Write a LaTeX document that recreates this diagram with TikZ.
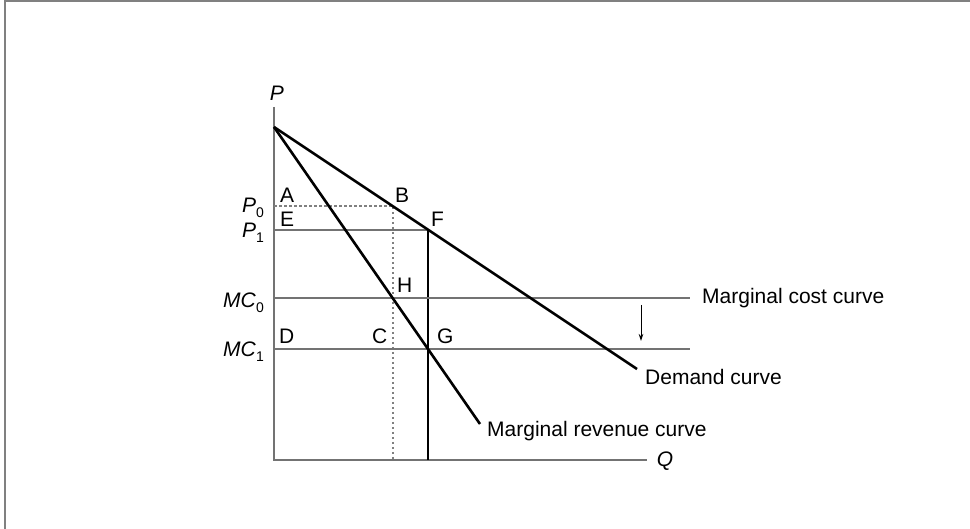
\documentclass[tikz,border=0pt]{standalone}
\usepackage{fontspec}
\setmainfont{Liberation Sans}
\usetikzlibrary{arrows.meta}

\newcommand{\lowsub}[1]{\raisebox{-5pt}{\fontsize{14}{14}\selectfont #1}}

\begin{document}
\begin{tikzpicture}[x=1pt, y=-1pt,
		curve/.style={line width=2.6pt, black},
		axisline/.style={line width=1.6pt, black!55},
		guide/.style={line width=1.6pt, black!55},
		dotguide/.style={line width=1.6pt, black!50, dash pattern=on 2.5pt off 2.5pt},
		drop/.style={line width=1.1pt, black},
		lbl/.style={inner sep=0pt, font=\fontsize{21}{25}\selectfont},
		axlbl/.style={inner sep=0pt, font=\fontsize{21}{25}\selectfont\itshape}]
	\useasboundingbox (0,0) rectangle (970,529);
	
	% Frame
	\draw[line width=2pt, black!50] (4.5,529) -- (4.5,1.5) -- (970,1.5);
	
	% Axes
	\coordinate (O) at (274,460);
	\coordinate (Ptop) at (274,107);
	\coordinate (Qend) at (647,460);
	\draw[axisline] (Ptop) -- (O) -- (Qend);
	\node[axlbl, anchor=base] (Plab) at (277,101) {P};
	\node[axlbl, anchor=base] (Qlab) at (665,466) {Q};
	
	% Points
	\coordinate (apex) at (274,127);
	\coordinate (B) at (393,206);
	\coordinate (F) at (428,230);
	\coordinate (H) at (393,298);
	\coordinate (G) at (428,349);
	\coordinate (P0) at (274,206);
	\coordinate (P1) at (274,230);
	\coordinate (MC0) at (274,298);
	\coordinate (MC1) at (274,349);
	\coordinate (Bfoot) at (393,460);
	\coordinate (Ffoot) at (428,460);
	\coordinate (MC0end) at (690,298);
	\coordinate (MC1end) at (690,349);
	\coordinate (Dend) at (637,369);
	\coordinate (MRend) at (480,424);
	
	% Price lines
	\draw[dotguide] (P0) -- (B) -- (Bfoot);
	\draw[guide] (P1) -- (F);
	\draw[drop] (F) -- (Ffoot);
	
	% Marginal cost lines
	\draw[guide] (MC0) -- (MC0end);
	\draw[guide] (MC1) -- (MC1end);
	
	% Demand and marginal revenue
	\draw[curve] (apex) -- (Dend);
	\draw[curve] (apex) -- (MRend);
	
	% Shift of marginal cost
	\coordinate (shtop) at (641,305);
	\coordinate (shbot) at (641,341);
	\draw[line width=0.9pt, -{Stealth[length=7pt, width=4.5pt]}] (shtop) -- (shbot);
	
	% Axis labels
	\node[lbl, anchor=base east] (P0lab) at (264,213) {\textit{P}\lowsub{0}};
	\node[lbl, anchor=base east] (P1lab) at (264,238) {\textit{P}\lowsub{1}};
	\node[lbl, anchor=base east] (MC0lab) at (264,308) {\textit{MC}\lowsub{0}};
	\node[lbl, anchor=base east] (MC1lab) at (264,357) {\textit{MC}\lowsub{1}};
	
	% Point labels
	\node[lbl, anchor=base west] (Alab) at (280,203) {A};
	\node[lbl, anchor=base west] (Blab) at (395,203) {B};
	\node[lbl, anchor=base west] (Elab) at (280,227) {E};
	\node[lbl, anchor=base west] (Flab) at (431,227) {F};
	\node[lbl, anchor=base west] (Hlab) at (397,293) {H};
	\node[lbl, anchor=base west] (Dlab) at (279,344) {D};
	\node[lbl, anchor=base west] (Clab) at (372,344) {C};
	\node[lbl, anchor=base west] (Glab) at (437,344) {G};
	
	% Curve names
	\node[lbl, anchor=base west] (mclab) at (702,304) {Marginal cost curve};
	\node[lbl, anchor=base west] (dlab) at (645,385) {Demand curve};
	\node[lbl, anchor=base west] (mrlab) at (487,437) {Marginal revenue curve};
\end{tikzpicture}
\end{document}
